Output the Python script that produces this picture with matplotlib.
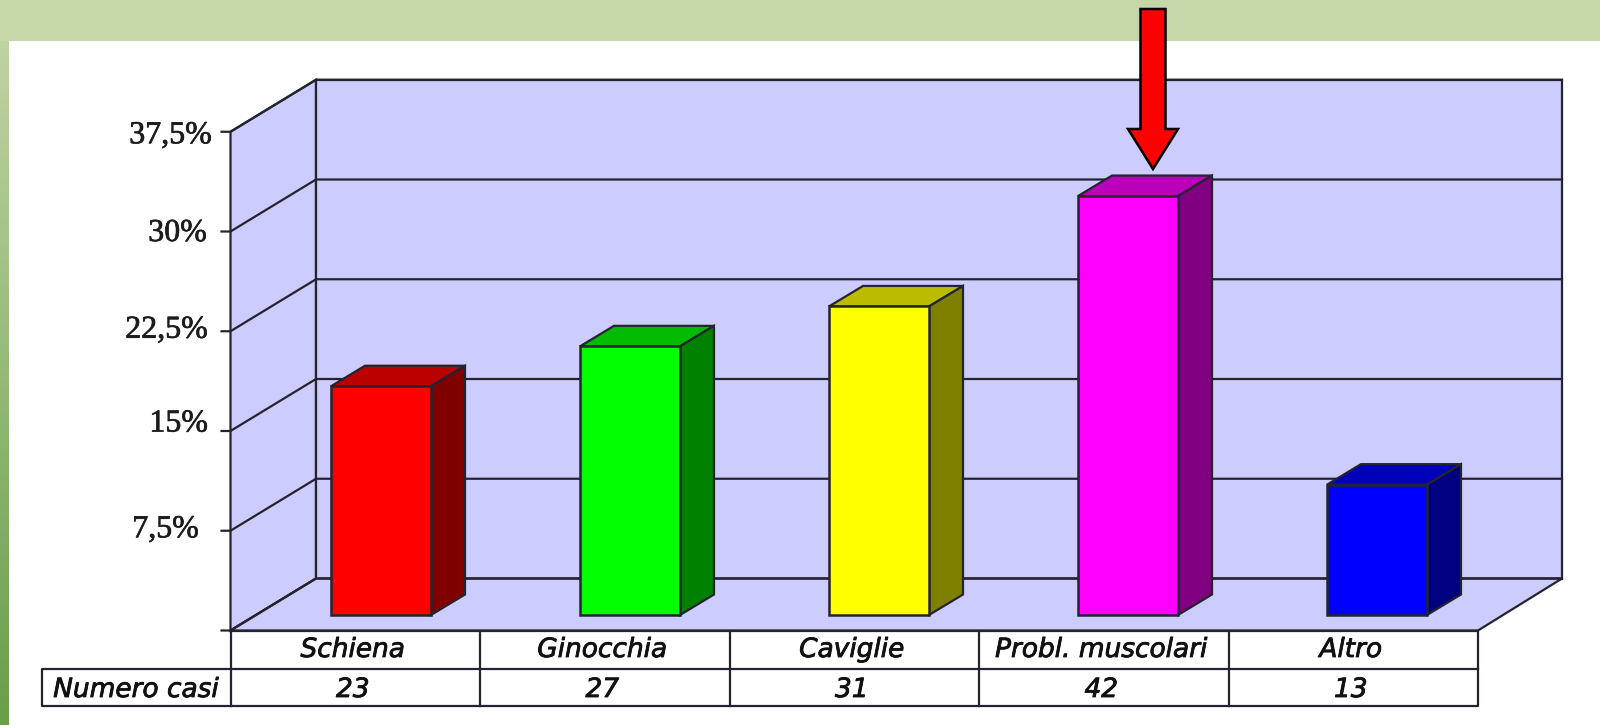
"""Infortuni per zona: 3D-look bar chart with a small table below, drawn on pixel-like coordinates."""

import numpy as np
import matplotlib
matplotlib.use('Agg')
import matplotlib.pyplot as plt
import matplotlib.patheffects as pe
from matplotlib.patches import Polygon, Rectangle

# data
categories = ['Schiena', 'Ginocchia', 'Caviglie', 'Probl. muscolari', 'Altro']
cases = ['23', '27', '31', '42', '13']
percent = [17.2, 20.2, 23.2, 31.5, 9.8]
tick_values = [0, 7.5, 15, 22.5, 30, 37.5]
tick_labels = ['', '7,5%', '15%', '22,5%', '30%', '37,5%']
front_colors = ['#ff0000', '#00ff00', '#ffff00', '#ff00ff', '#0000ff']
top_colors = ['#bb0000', '#00bb00', '#bbbb00', '#bb00bb', '#0000bb']
side_colors = ['#800000', '#008000', '#808000', '#800080', '#000080']

# layout of the plot box, in pixels
LINE = '#24242e'
WALL = '#ccccff'
X_LEFT, X_RIGHT = 230.5, 1478
Y_BASE = 630.5
PX_PER_PERCENT = 13.3
DEPTH_X, DEPTH_Y = 85.5, 52
COL_W = (X_RIGHT - X_LEFT) / 5
BAR_W, BAR_DX, BAR_DY = 100, 34, 20.5
BAR_BASE = 615
ROW_1, ROW_2 = 669, 706
TABLE_LEFT = 42


def val_y(v):
    # value axis: percent -> pixel row at the front of the box
    return Y_BASE - v * PX_PER_PERCENT


def poly(ax, pts, color, lw=1.6, z=1):
    ax.add_patch(Polygon(pts, closed=True, facecolor=color, edgecolor=LINE, linewidth=lw, zorder=z))


def cell_text(ax, x, y, s):
    # table text is heavier than the regular oblique, so thicken it a little
    t = ax.text(x, y, s, ha='center', va='center', fontsize=19,
                family='DejaVu Sans', style='italic', color='#111111')
    t.set_path_effects([pe.withStroke(linewidth=0.6, foreground='#111111')])


fig = plt.figure(figsize=(16, 7.25), dpi=100, facecolor='white')
ax = fig.add_axes([0, 0, 1, 1])
ax.set_xlim(0, 1600)
ax.set_ylim(725, 0)
ax.axis('off')

# slide background: green band on top, gradient strip on the left
gradient = np.linspace(0, 1, 200)[:, None, None]
top_rgb = np.array([197, 214, 168]) / 255
bottom_rgb = np.array([104, 158, 74]) / 255
ax.imshow(top_rgb + (bottom_rgb - top_rgb) * gradient, extent=(0, 9, 725, 0), aspect='auto', zorder=0)
ax.set_xlim(0, 1600)
ax.set_ylim(725, 0)
ax.add_patch(Rectangle((0, 0), 1600, 41, facecolor='#c5d6a8', edgecolor='none', zorder=0.5))

# box walls and floor
y_top = val_y(37.5)
poly(ax, [(X_LEFT, Y_BASE), (X_LEFT, y_top), (X_LEFT + DEPTH_X, y_top - DEPTH_Y),
          (X_LEFT + DEPTH_X, Y_BASE - DEPTH_Y)], WALL)
poly(ax, [(X_LEFT + DEPTH_X, Y_BASE - DEPTH_Y), (X_LEFT + DEPTH_X, y_top - DEPTH_Y),
          (X_RIGHT + DEPTH_X - 1.5, y_top - DEPTH_Y), (X_RIGHT + DEPTH_X - 1.5, Y_BASE - DEPTH_Y)], WALL)
poly(ax, [(X_LEFT, Y_BASE), (X_LEFT + DEPTH_X, Y_BASE - DEPTH_Y),
          (X_RIGHT + DEPTH_X - 1.5, Y_BASE - DEPTH_Y), (X_RIGHT, Y_BASE)], WALL)

# gridlines and tick marks
label_shift = {'7,5%': (199, -1), '15%': (208, -7), '22,5%': (208, -1), '30%': (207, 2), '37,5%': (212, 4), '': (210, 0)}
for v, lab in zip(tick_values, tick_labels):
    y = val_y(v)
    ax.plot([X_LEFT - 9, X_LEFT, X_LEFT + DEPTH_X, X_RIGHT + DEPTH_X - 1.5],
            [y, y, y - DEPTH_Y, y - DEPTH_Y], color=LINE, lw=1.6, zorder=2)
    lx, dy = label_shift[lab]
    t = ax.text(lx, y + dy, lab, ha='right', va='center', fontsize=23,
                family='Liberation Serif', color='#1c1c1c', zorder=5)
    t.set_path_effects([pe.withStroke(linewidth=0.5, foreground='#1c1c1c')])

# bars: front, top and side faces
for i, val in enumerate(percent):
    x0 = 331 + (COL_W - 0.5) * i
    x1 = x0 + BAR_W
    top = BAR_BASE - val * PX_PER_PERCENT
    poly(ax, [(x0, top), (x0 + BAR_DX, top - BAR_DY), (x1 + BAR_DX, top - BAR_DY), (x1, top)],
         top_colors[i], z=3)
    poly(ax, [(x1, top), (x1 + BAR_DX, top - BAR_DY), (x1 + BAR_DX, BAR_BASE - BAR_DY), (x1, BAR_BASE)],
         side_colors[i], z=3)
    ax.add_patch(Rectangle((x0, top), BAR_W, BAR_BASE - top, facecolor=front_colors[i],
                           edgecolor=LINE, linewidth=1.8, zorder=4))

# table under the chart
ax.plot([X_LEFT, X_RIGHT, X_RIGHT, TABLE_LEFT, TABLE_LEFT, X_RIGHT], [Y_BASE, Y_BASE, ROW_2, ROW_2, ROW_1, ROW_1],
        color=LINE, lw=1.6, zorder=2)
for i in range(5):
    x = X_LEFT + COL_W * i
    ax.plot([x, x], [Y_BASE, ROW_2], color=LINE, lw=1.6, zorder=2)
    cell_text(ax, x + COL_W / 2 - 2.5, 650, categories[i])
    cell_text(ax, x + COL_W / 2 - 2.5, 690, cases[i])
cell_text(ax, 136, 690, 'Numero casi')

# red arrow pointing at the tallest bar
arrow_x = 1153
shaft, head = 12.5, 25
ax.add_patch(Polygon([(arrow_x - shaft, 9), (arrow_x + shaft, 9), (arrow_x + shaft, 129), (arrow_x + head, 129),
                      (arrow_x, 169), (arrow_x - head, 129), (arrow_x - shaft, 129)],
                     closed=True, facecolor='#ff0000', edgecolor='black', linewidth=1.8, zorder=6))

fig.savefig('out.png', dpi=100)
